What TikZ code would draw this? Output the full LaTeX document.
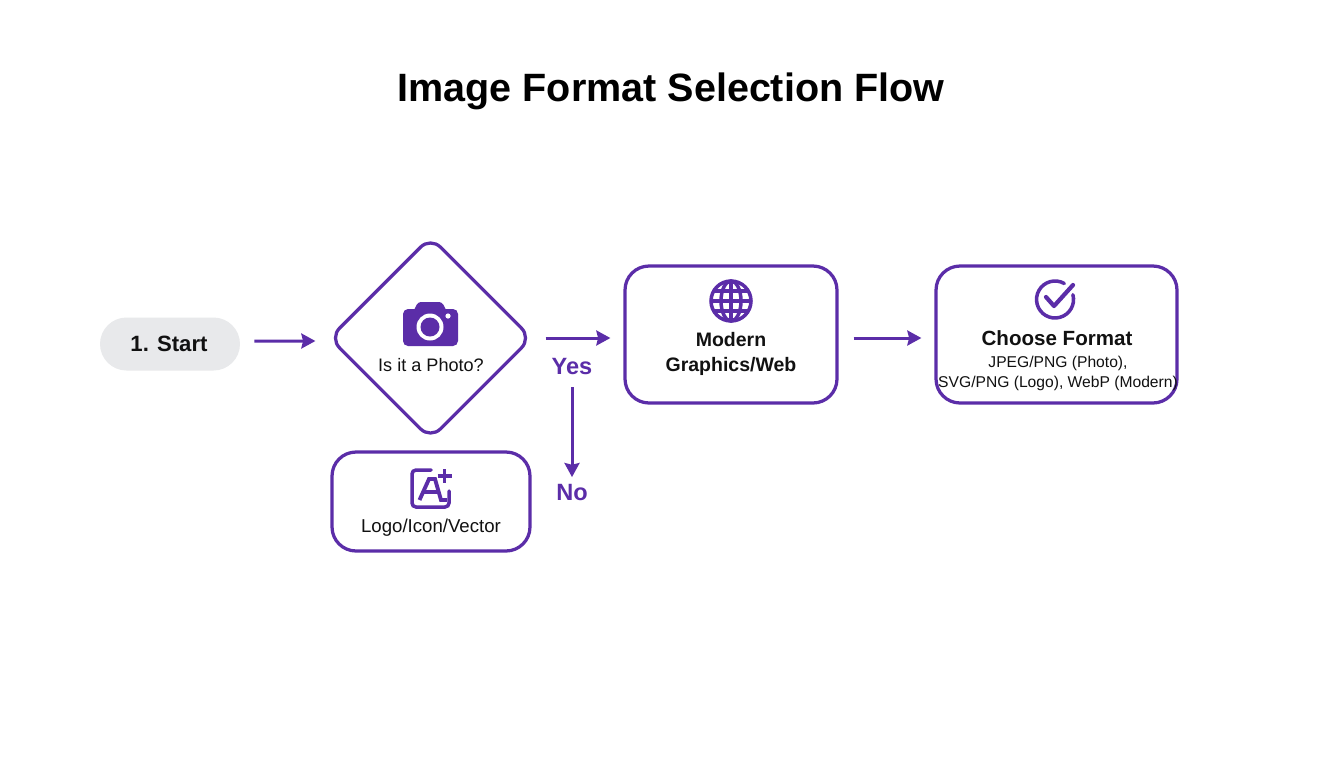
\documentclass[tikz,border=0pt]{standalone}
\usepackage{fontspec}
\setmainfont{Liberation Sans}
\usepackage{tikz}
\usetikzlibrary{positioning,arrows.meta,shapes.geometric}
\definecolor{colorflow}  {RGB}{91 ,45 ,168}
\definecolor{colortext}  {RGB}{17 ,17 ,17 }
\definecolor{colorstart} {RGB}{232,233,235}

\begin{document}
\begin{tikzpicture}[
    x=0.02cm, y=-0.02cm,
    title/.style={text=black,font={\fontsize{22.5}{26}\selectfont\bfseries}},
    head/.style={text=colortext,align=center,font={\fontsize{11.1}{13.8}\selectfont\bfseries}},
    body/.style={text=colortext,align=center,font={\fontsize{10.3}{12}\selectfont}},
    small/.style={text=colortext,align=center,font={\fontsize{8.9}{11.4}\selectfont}},
    answer/.style={text=colorflow,font={\fontsize{13.4}{16}\selectfont\bfseries}},
    stepbox/.style={draw=colorflow,line width=1.85pt,rounded corners=0.48cm,inner sep=0pt},
    flow/.style={draw=colorflow,line width=1.7pt,-{Stealth[length=8pt,width=8.5pt,inset=1pt]}},
    icon/.style={draw=colorflow,line width=2pt},
]

    \useasboundingbox[fill=white] (0,0) rectangle (1344,768);
    \node[title] (heading) at (671,91.5) {Image Format Selection Flow};

    % flow shapes
    \node[fill=colorstart,rounded corners=0.53cm,minimum width=2.8cm,minimum height=1.06cm,inner sep=0pt] (start) at (170,344) {};
    \node[diamond,stepbox,rounded corners=0.28cm,aspect=1,minimum width=4.06cm,minimum height=4.06cm] (photo) at (430.5,338) {};
    \node[stepbox,minimum width=3.96cm,minimum height=1.98cm] (logo) at (431,501.5) {};
    \node[stepbox,minimum width=4.24cm,minimum height=2.74cm] (graphics) at (731,334.5) {};
    \node[stepbox,minimum width=4.82cm,minimum height=2.74cm] (choose) at (1056.5,334.5) {};

    % labels
    \node[head,font={\fontsize{12.6}{15}\selectfont\bfseries}] at (169,344) (startlabel) {1. Start};
    \node[body] at (431,365.5) (photolabel) {Is it a Photo?};
    \node[body,font={\fontsize{10.6}{12}\selectfont}] at (431,527.5) (logolabel) {Logo/Icon/Vector};
    \node[head] at (731,354) (graphicslabel) {Modern\\Graphics/Web};
    \node[head,font={\fontsize{11.7}{13.6}\selectfont\bfseries}] at (1057,338) (chooselabel) {Choose Format};
    \node[small] at (1058,373) (formats) {JPEG/PNG (Photo),\\SVG/PNG (Logo), WebP (Modern)};
    \node[answer] at (572,367) (yes) {Yes};
    \node[answer] at (572,492.5) (no) {No};

    % connectors
    \draw[flow,shorten <=0.28cm,shorten >=0.24cm] ([yshift=0.06cm]start.east) -- ([yshift=-0.06cm]photo.west);
    \draw[flow,shorten <=0.24cm,shorten >=0.26cm] (photo.east) -- (graphics.west |- photo.east);
    \draw[flow,shorten <=0.3cm,shorten >=0.26cm] (graphics.east |- photo.east) -- (choose.west |- photo.east);
    \draw[flow,shorten <=0.12cm,shorten >=0.02cm] (yes.south -| no.north) -- (no.north);

    % camera
    \fill[colorflow,rounded corners=0.1cm] (403,309) rectangle (458,346);
    \fill[colorflow,rounded corners=0.06cm] (413,312) -- (418,302) -- (442,302) -- (447,312) -- cycle;
    \fill[white] (430,327) circle (13.5);
    \fill[colorflow] (430,327) circle (9.5);
    \fill[white] (448,316) circle (2.6);

    % A with plus
    \draw[icon,rounded corners=0.08cm,line cap=round] (431,470) -- (412,470) -- (412,507) -- (449,507) -- (449,491);
    \draw[icon,line width=2.2pt] (444.5,469) -- (444.5,483) (437.5,476) -- (451.5,476);
    \draw[icon,line width=2.2pt] (419.5,500) -- (429,479) -- (435,479) -- (441,500) -- (447,500);
    \draw[icon] (424,492) -- (438,492);

    % globe
    \draw[icon] (731,301) circle (20);
    \draw[icon] (731,301) ellipse (10 and 20);
    \draw[icon] (731,281) -- (731,321) (711,301) -- (751,301);
    \draw[icon] (714,291) -- (748,291) (714,311) -- (748,311);

    % check
    \draw[icon,line cap=round] (1072.9,294.7) arc[start angle=-15,end angle=300,radius=18.5];
    \draw[icon,line width=2.4pt,line cap=round,line join=round] (1046,297) -- (1054,306) -- (1073,285);
\end{tikzpicture}
\end{document}
